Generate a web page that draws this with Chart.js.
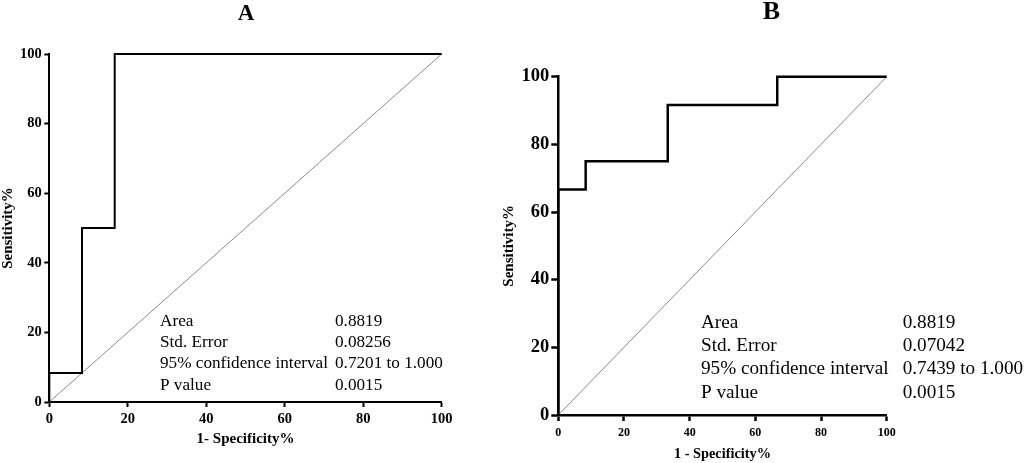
<!DOCTYPE html>
<html>
<head>
<meta charset="utf-8">
<script src="https://cdn.jsdelivr.net/npm/chart.js@4/dist/chart.umd.min.js"></script>
<style>
  html, body { margin:0; padding:0; background:#fff; }
  body { width:1025px; height:463px; position:relative; overflow:hidden; }
  .panel { position:absolute; top:0; height:463px; }
  #wrapA { left:0; width:512px; }
  #wrapB { left:495px; width:530px; }
</style>
</head>
<body>
<div class="panel" id="wrapA"><canvas id="chartA"></canvas></div>
<div class="panel" id="wrapB"><canvas id="chartB"></canvas></div>
<script>
// ---- Data ----
const rocA_fpr  = [0, 0, 8.33, 8.33, 16.67, 16.67, 100];
const rocA_sens = [0, 8.33, 8.33, 50, 50, 100, 100];
const rocB_fpr  = [0, 0, 8.33, 8.33, 33.33, 33.33, 66.67, 66.67, 100];
const rocB_sens = [0, 66.67, 66.67, 75, 75, 91.67, 91.67, 100, 100];
const refLine_x = [0, 100];
const refLine_y = [0, 100];
const axisMin = 0, axisMax = 100, axisStep = 20;
const statLabels = ['Area', 'Std. Error', '95% confidence interval', 'P value'];
const statsA = ['0.8819', '0.08256', '0.7201 to 1.000', '0.0015'];
const statsB = ['0.8819', '0.07042', '0.7439 to 1.000', '0.0015'];
const titleA = 'A', titleB = 'B';
const xTitleA = '1- Specificity%', xTitleB = '1 - Specificity%';
const yTitle = 'Sensitivity%';

const SERIF = "'Liberation Serif', 'Times New Roman', Times, serif";
const toPts = (xs, ys) => xs.map((x, i) => ({x: x, y: ys[i]}));

const panelText = {
  id: 'panelText',
  afterDraw(chart, args, o) {
    const ctx = chart.ctx;
    ctx.save();
    ctx.fillStyle = '#000';
    ctx.textBaseline = 'middle';
    ctx.textAlign = 'center';
    ctx.font = `bold ${o.titleSize}px ${SERIF}`;
    ctx.fillText(o.title, o.titleX, o.titleY);
    ctx.textAlign = 'left';
    ctx.font = `${o.statSize}px ${SERIF}`;
    o.labels.forEach((l, i) => {
      const y = o.rowY + i * o.rowGap;
      ctx.fillText(l, o.labelX, y);
      ctx.fillText(o.values[i], o.valueX, y);
    });
    ctx.restore();
  }
};

function makeChart(id, cfg) {
  const scale = (title, tickSize, tickLen, tickPad, titleSize, titlePad, fit) => ({
    type: 'linear',
    min: axisMin, max: axisMax,
    border: { display: true, color: '#000', width: cfg.axisW },
    grid: { display: true, drawOnChartArea: false, drawTicks: true, tickLength: tickLen, tickColor: '#000', tickWidth: cfg.axisW, color: '#000' },
    ticks: { stepSize: axisStep, color: '#000', padding: tickPad, font: { family: SERIF, weight: 'bold', size: tickSize } },
    title: { display: true, text: title, color: '#000', padding: titlePad, font: { family: SERIF, weight: 'bold', size: titleSize, lineHeight: 1.2 } },
    afterFit: fit
  });
  return new Chart(document.getElementById(id), {
    type: 'line',
    data: {
      datasets: [
        { data: toPts(cfg.rocX, cfg.rocY), borderColor: '#000', borderWidth: cfg.curveW, pointRadius: 0, tension: 0, fill: false, clip: 6, order: 1 },
        { data: toPts(refLine_x, refLine_y), borderColor: '#8a8a8a', borderWidth: 1, pointRadius: 0, tension: 0, fill: false, clip: 6, order: 2 }
      ]
    },
    options: {
      responsive: true,
      maintainAspectRatio: false,
      animation: false,
      events: [],
      layout: { padding: cfg.padding },
      plugins: { legend: { display: false }, tooltip: { enabled: false }, title: { display: false }, panelText: cfg.text },
      scales: {
        x: scale(cfg.xTitle, cfg.xTickSize, cfg.xTickLen, cfg.xTickPad, cfg.xTitleSize, {top: 0, bottom: 0}, a => { a.height = cfg.xAxisH; }),
        y: scale(yTitle, cfg.yTickSize, cfg.yTickLen, cfg.yTickPad, cfg.yTitleSize, {top: cfg.yTitlePad, bottom: 0}, a => { a.width = cfg.yAxisW; })
      }
    },
    plugins: [panelText]
  });
}

makeChart('chartA', {
  rocX: rocA_fpr, rocY: rocA_sens, xTitle: xTitleA,
  axisW: 2, curveW: 2,
  padding: { left: 0, top: 54, right: 70.3, bottom: 15 },
  xAxisH: 46, yAxisW: 49.3,
  xTickSize: 14.5, xTickLen: 5, xTickPad: 4,
  yTickSize: 14.5, yTickLen: 5, yTickPad: 2.5,
  xTitleSize: 15, yTitleSize: 15, yTitlePad: -1,
  text: { title: titleA, titleX: 246, titleY: 14.5, titleSize: 23,
          labels: statLabels, values: statsA, labelX: 160, valueX: 335,
          rowY: 321.7, rowGap: 21.1, statSize: 17.2 }
});

makeChart('chartB', {
  rocX: rocB_fpr, rocY: rocB_sens, xTitle: xTitleB,
  axisW: 2.5, curveW: 2.5,
  padding: { left: 0, top: 76.7, right: 138.3, bottom: 0.4 },
  xAxisH: 47.6, yAxisW: 63.3,
  xTickSize: 12, xTickLen: 6, xTickPad: 4.5,
  yTickSize: 18.5, yTickLen: 7, yTickPad: 2,
  xTitleSize: 14.3, yTitleSize: 15, yTitlePad: 5,
  text: { title: titleB, titleX: 276.3, titleY: 12.5, titleSize: 26,
          labels: statLabels, values: statsB, labelX: 206, valueX: 407.7,
          rowY: 322.7, rowGap: 23.3, statSize: 19.2 }
});
</script>
</body>
</html>
